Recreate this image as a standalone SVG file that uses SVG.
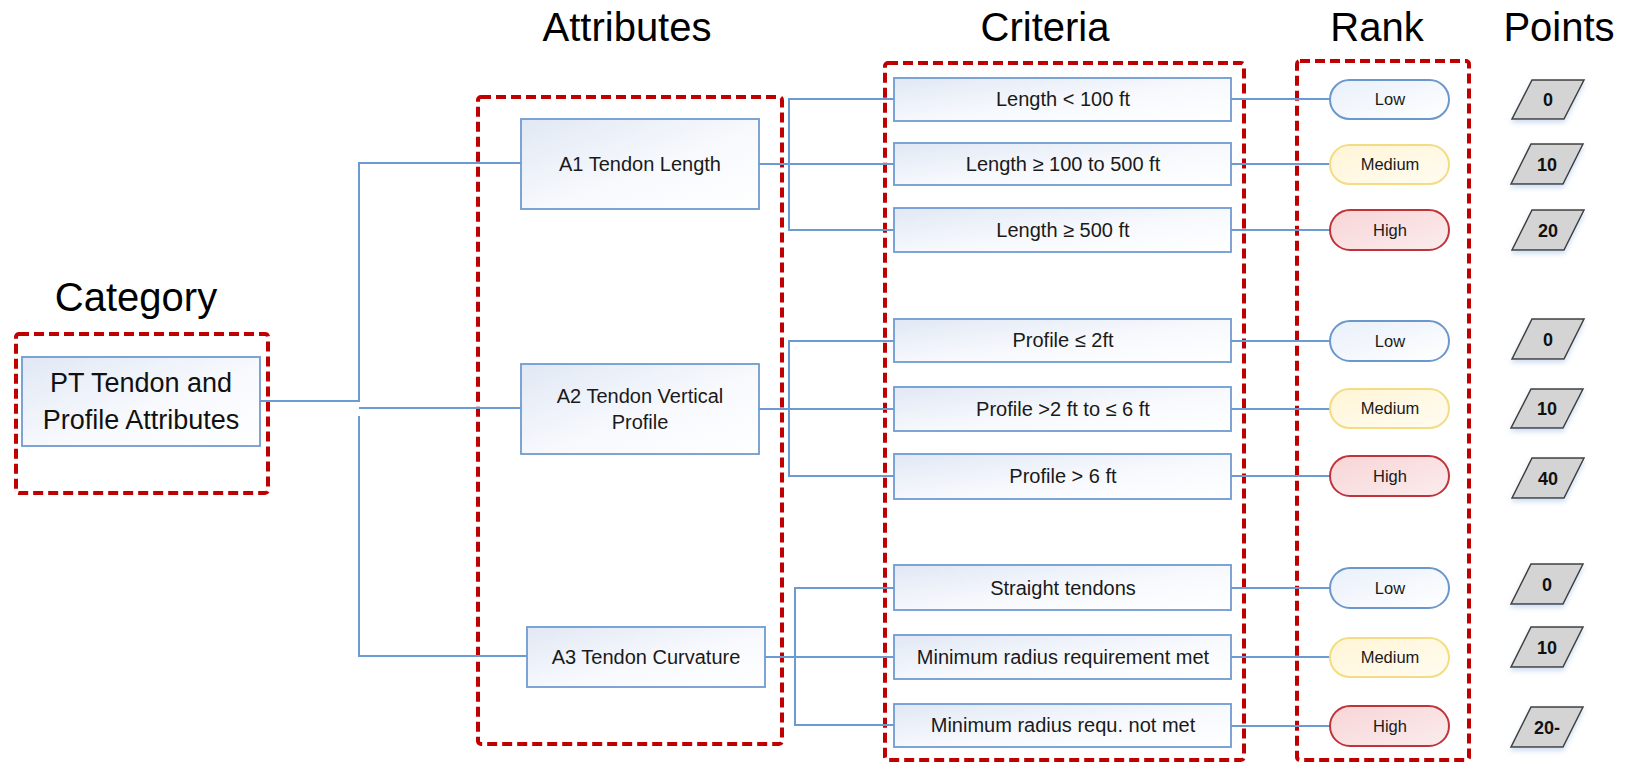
<svg xmlns="http://www.w3.org/2000/svg" width="1627" height="763" viewBox="0 0 1627 763">
  <style>
    .head { font-family: "Liberation Sans", Arial, sans-serif; font-size: 40px; fill: #000; text-anchor: middle; }
    .t { font-family: "Liberation Sans", Arial, sans-serif; font-size: 20px; fill: #1a1a1a; text-anchor: middle; }
    .tc { font-family: "Liberation Sans", Arial, sans-serif; font-size: 27px; fill: #111; text-anchor: middle; }
    .tr { font-family: "Liberation Sans", Arial, sans-serif; font-size: 16.5px; fill: #1a1a1a; text-anchor: middle; }
    .tp { font-family: "Liberation Sans", Arial, sans-serif; font-size: 18px; font-weight: bold; fill: #111; text-anchor: middle; }
    .box { fill: url(#gBox); stroke: #6f9bd1; stroke-width: 1.8; }
    .conn { fill: none; stroke: #6b9bd2; stroke-width: 2; }
    .grp { fill: none; stroke: #c00000; stroke-width: 4; stroke-dasharray: 10 5; }
    .low { fill: url(#gLow); stroke: #6b98cc; stroke-width: 2; }
    .med { fill: url(#gMed); stroke: #f3dc82; stroke-width: 2; }
    .high { fill: url(#gHigh); stroke: #c0333b; stroke-width: 2; }
    .pt { fill: #d4d4d4; stroke: #3f3f3f; stroke-width: 1.5; filter: url(#shadow); }
  </style>
  <defs>
    <linearGradient id="gBox" x1="0" y1="0" x2="1" y2="1">
      <stop offset="0" stop-color="#e1e8f4"/>
      <stop offset="0.55" stop-color="#f7f9fd"/>
      <stop offset="1" stop-color="#ffffff"/>
    </linearGradient>
    <linearGradient id="gLow" x1="0" y1="0" x2="1" y2="1">
      <stop offset="0" stop-color="#e9f0fa"/>
      <stop offset="1" stop-color="#ffffff"/>
    </linearGradient>
    <linearGradient id="gMed" x1="0" y1="0" x2="1" y2="1">
      <stop offset="0" stop-color="#fff5d6"/>
      <stop offset="1" stop-color="#fffcf1"/>
    </linearGradient>
    <linearGradient id="gHigh" x1="0" y1="0" x2="1" y2="1">
      <stop offset="0" stop-color="#f8d5d7"/>
      <stop offset="1" stop-color="#fbeced"/>
    </linearGradient>
    <filter id="shadow" x="-20%" y="-20%" width="140%" height="160%">
      <feDropShadow dx="0" dy="3" stdDeviation="2.5" flood-color="#9fbce4" flood-opacity="0.5"/>
    </filter>
  </defs>

  <!-- column headings -->
  <g id="headings">
    <text class="head" x="627" y="41">Attributes</text>
    <text class="head" x="1045" y="41">Criteria</text>
    <text class="head" x="1377" y="41">Rank</text>
    <text class="head" x="1559" y="41">Points</text>
    <text class="head" x="136" y="311">Category</text>
  </g>

  <!-- dashed group frames -->
  <g id="frames">
    <rect class="grp" x="16" y="334" width="252" height="159" rx="3"/>
    <rect class="grp" x="478" y="97" width="304" height="647" rx="3"/>
    <rect class="grp" x="885" y="63" width="359" height="697" rx="3"/>
    <rect class="grp" x="1297" y="61" width="172" height="699" rx="3"/>
  </g>

  <!-- connectors -->
  <g id="connectors">
    <path class="conn" d="M260 401 H359 V163 H521"/>
    <path class="conn" d="M359 408 H521"/>
    <path class="conn" d="M359 416 V656 H527"/>

    <path class="conn" d="M759 164 H894"/>
    <path class="conn" d="M894 99 H789 V230 H894"/>
    <path class="conn" d="M759 409 H894"/>
    <path class="conn" d="M894 341 H789 V476 H894"/>
    <path class="conn" d="M765 657 H894"/>
    <path class="conn" d="M894 588 H795 V725 H894"/>

    <path class="conn" d="M1231 99 H1330"/>
    <path class="conn" d="M1231 164 H1330"/>
    <path class="conn" d="M1231 230 H1330"/>
    <path class="conn" d="M1231 341 H1330"/>
    <path class="conn" d="M1231 409 H1330"/>
    <path class="conn" d="M1231 476 H1330"/>
    <path class="conn" d="M1231 588 H1330"/>
    <path class="conn" d="M1231 657 H1330"/>
    <path class="conn" d="M1231 726 H1330"/>
  </g>

  <!-- category -->
  <g id="category">
    <rect class="box" x="22" y="357" width="238" height="89"/>
    <text class="tc" x="141" y="392">PT Tendon and</text>
    <text class="tc" x="141" y="429">Profile Attributes</text>
  </g>

  <!-- attributes -->
  <g id="attr-a1">
    <rect class="box" x="521" y="119" width="238" height="90"/>
    <text class="t" x="640" y="171">A1 Tendon Length</text>
  </g>
  <g id="attr-a2">
    <rect class="box" x="521" y="364" width="238" height="90"/>
    <text class="t" x="640" y="403">A2 Tendon Vertical</text>
    <text class="t" x="640" y="429">Profile</text>
  </g>
  <g id="attr-a3">
    <rect class="box" x="527" y="627" width="238" height="60"/>
    <text class="t" x="646" y="664">A3 Tendon Curvature</text>
  </g>

  <!-- criteria -->
  <g id="crit-1"><rect class="box" x="894" y="78" width="337" height="43"/><text class="t" x="1063" y="106">Length &lt; 100 ft</text></g>
  <g id="crit-2"><rect class="box" x="894" y="143" width="337" height="42"/><text class="t" x="1063" y="171">Length ≥ 100 to 500 ft</text></g>
  <g id="crit-3"><rect class="box" x="894" y="208" width="337" height="44"/><text class="t" x="1063" y="237">Length ≥ 500 ft</text></g>
  <g id="crit-4"><rect class="box" x="894" y="319" width="337" height="43"/><text class="t" x="1063" y="347">Profile ≤ 2ft</text></g>
  <g id="crit-5"><rect class="box" x="894" y="387" width="337" height="44"/><text class="t" x="1063" y="416">Profile &gt;2 ft to ≤ 6 ft</text></g>
  <g id="crit-6"><rect class="box" x="894" y="454" width="337" height="45"/><text class="t" x="1063" y="483">Profile &gt; 6 ft</text></g>
  <g id="crit-7"><rect class="box" x="894" y="565" width="337" height="45"/><text class="t" x="1063" y="595">Straight tendons</text></g>
  <g id="crit-8"><rect class="box" x="894" y="635" width="337" height="44"/><text class="t" x="1063" y="664">Minimum radius requirement met</text></g>
  <g id="crit-9"><rect class="box" x="894" y="704" width="337" height="43"/><text class="t" x="1063" y="732">Minimum radius requ. not met</text></g>

  <!-- rank -->
  <g id="rank-1"><rect class="low" x="1330" y="80" width="119" height="39" rx="19.5"/><text class="tr" x="1390" y="105">Low</text></g>
  <g id="rank-2"><rect class="med" x="1330" y="145" width="119" height="39" rx="19.5"/><text class="tr" x="1390" y="170">Medium</text></g>
  <g id="rank-3"><rect class="high" x="1330" y="210" width="119" height="40" rx="20"/><text class="tr" x="1390" y="236">High</text></g>
  <g id="rank-4"><rect class="low" x="1330" y="321" width="119" height="40" rx="20"/><text class="tr" x="1390" y="347">Low</text></g>
  <g id="rank-5"><rect class="med" x="1330" y="389" width="119" height="39" rx="19.5"/><text class="tr" x="1390" y="414">Medium</text></g>
  <g id="rank-6"><rect class="high" x="1330" y="456" width="119" height="40" rx="20"/><text class="tr" x="1390" y="482">High</text></g>
  <g id="rank-7"><rect class="low" x="1330" y="568" width="119" height="40" rx="20"/><text class="tr" x="1390" y="594">Low</text></g>
  <g id="rank-8"><rect class="med" x="1330" y="638" width="119" height="39" rx="19.5"/><text class="tr" x="1390" y="663">Medium</text></g>
  <g id="rank-9"><rect class="high" x="1330" y="706" width="119" height="40" rx="20"/><text class="tr" x="1390" y="732">High</text></g>

  <!-- points -->
  <g id="pts-1"><polygon class="pt" points="1532,80 1584,80 1564,119 1512,119"/><text class="tp" x="1548" y="106">0</text></g>
  <g id="pts-2"><polygon class="pt" points="1531,144 1583,144 1563,184 1511,184"/><text class="tp" x="1547" y="171">10</text></g>
  <g id="pts-3"><polygon class="pt" points="1532,210 1584,210 1564,250 1512,250"/><text class="tp" x="1548" y="237">20</text></g>
  <g id="pts-4"><polygon class="pt" points="1532,319 1584,319 1564,359 1512,359"/><text class="tp" x="1548" y="346">0</text></g>
  <g id="pts-5"><polygon class="pt" points="1531,389 1583,389 1563,428 1511,428"/><text class="tp" x="1547" y="415">10</text></g>
  <g id="pts-6"><polygon class="pt" points="1532,458 1584,458 1564,498 1512,498"/><text class="tp" x="1548" y="485">40</text></g>
  <g id="pts-7"><polygon class="pt" points="1531,564 1583,564 1563,604 1511,604"/><text class="tp" x="1547" y="591">0</text></g>
  <g id="pts-8"><polygon class="pt" points="1531,627 1583,627 1563,667 1511,667"/><text class="tp" x="1547" y="654">10</text></g>
  <g id="pts-9"><polygon class="pt" points="1531,707 1583,707 1563,747 1511,747"/><text class="tp" x="1547" y="734">20-</text></g>
</svg>
